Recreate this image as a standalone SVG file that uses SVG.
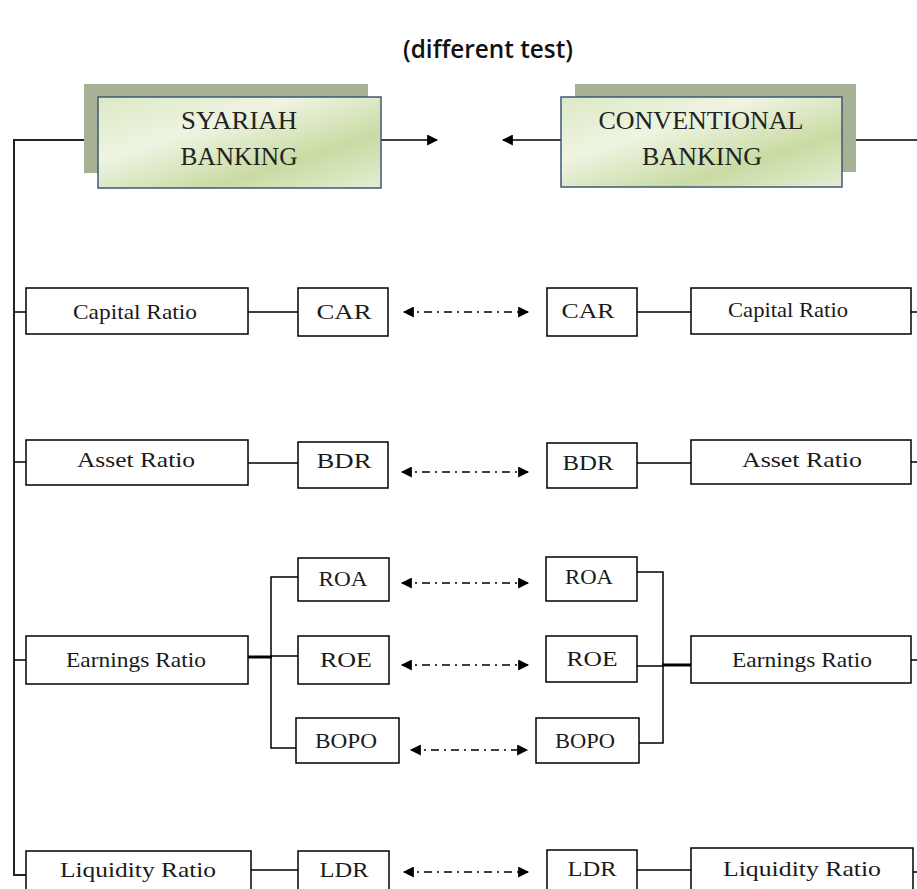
<svg xmlns="http://www.w3.org/2000/svg" width="917" height="889" viewBox="0 0 917 889">
<defs>
<linearGradient id="g" x1="0" y1="0" x2="1" y2="1">
<stop offset="0" stop-color="#dce9c4"/>
<stop offset="0.35" stop-color="#eef4e2"/>
<stop offset="0.7" stop-color="#c9dba3"/>
<stop offset="1" stop-color="#e4eed3"/>
</linearGradient>
<marker id="ah" viewBox="0 0 10 10" refX="9" refY="5" markerWidth="13" markerHeight="11" markerUnits="userSpaceOnUse" orient="auto-start-reverse">
<path d="M0,0 L10,5 L0,10 Z" fill="#000"/>
</marker>
</defs>
<style>
.t{font-family:"Liberation Serif","DejaVu Serif",serif;font-size:21px;fill:#1a1a1a;text-anchor:middle}
.h{font-family:"Liberation Serif","DejaVu Serif",serif;font-size:25px;fill:#222;text-anchor:middle}
.b{fill:#fff;stroke:#000;stroke-width:1.5}
.hb{fill:url(#g);stroke:#3d5878;stroke-width:1.5}
.sh{fill:#a7b193}
.ln{fill:none;stroke:#000;stroke-width:1.5}
.tk{fill:none;stroke:#000;stroke-width:3}
.da{fill:none;stroke:#000;stroke-width:1.5;stroke-dasharray:8 5 2 5}
</style>
<rect width="917" height="889" fill="#fff"/>
<text x="488" y="58" font-family="'Open Sans','Liberation Sans',sans-serif" font-size="25" font-weight="600" fill="#111" text-anchor="middle" textLength="170" lengthAdjust="spacingAndGlyphs">(different test)</text>

<g id="connectors">
<path class="ln" d="M98,140 H14 V875 H26" style="stroke:#222;stroke-width:2"/>
<path class="ln" d="M14,312 H26 M14,462 H26 M14,660 H26"/>
<path class="ln" d="M911,312 H917 M911,462 H917 M911,660 H917 M911,872 H917"/>
<path class="ln" d="M381,140 H437" marker-end="url(#ah)"/>
<path class="ln" d="M561,140 H503" marker-end="url(#ah)"/>
<path class="ln" d="M842,140 H917"/>
<path class="ln" d="M248,312 H298 M637,312 H691"/>
<path class="ln" d="M248,463 H298 M637,463 H691"/>
<path class="ln" d="M248,870 H298 M637,870 H691"/>
<path class="ln" d="M298,577 H271 V748 H296 M271,656 H298"/>
<path class="tk" d="M248,657 H272"/>
<path class="ln" d="M637,572 H663 V743 H639 M637,666 H663"/>
<path class="tk" d="M662,665 H691"/>
<path class="da" d="M404,312 H528" marker-start="url(#ah)" marker-end="url(#ah)"/>
<path class="da" d="M402,472 H528" marker-start="url(#ah)" marker-end="url(#ah)"/>
<path class="da" d="M402,583 H528" marker-start="url(#ah)" marker-end="url(#ah)"/>
<path class="da" d="M402,665 H528" marker-start="url(#ah)" marker-end="url(#ah)"/>
<path class="da" d="M411,750 H527" marker-start="url(#ah)" marker-end="url(#ah)"/>
<path class="da" d="M404,872 H528" marker-start="url(#ah)" marker-end="url(#ah)"/>
</g>

<g id="syariah">
<rect class="sh" x="84" y="84" width="284" height="89"/>
<rect class="hb" x="98" y="97" width="283" height="91"/>
<text class="h" x="239" y="129" textLength="116" lengthAdjust="spacingAndGlyphs">SYARIAH</text>
<text class="h" x="239" y="165" textLength="117" lengthAdjust="spacingAndGlyphs">BANKING</text>
</g>
<g id="conventional">
<rect class="sh" x="575" y="84" width="281" height="88"/>
<rect class="hb" x="561" y="97" width="281" height="90"/>
<text class="h" x="701" y="129" textLength="205" lengthAdjust="spacingAndGlyphs">CONVENTIONAL</text>
<text class="h" x="702" y="165" textLength="120" lengthAdjust="spacingAndGlyphs">BANKING</text>
</g>

<g id="capital-left"><rect class="b" x="26" y="288" width="222" height="46"/><text class="t" x="135" y="319" textLength="124" lengthAdjust="spacingAndGlyphs">Capital Ratio</text></g>
<g id="car-left"><rect class="b" x="298" y="288" width="90" height="48"/><text class="t" x="344" y="319" textLength="55" lengthAdjust="spacingAndGlyphs">CAR</text></g>
<g id="car-right"><rect class="b" x="547" y="288" width="90" height="48"/><text class="t" x="588" y="318" textLength="53" lengthAdjust="spacingAndGlyphs">CAR</text></g>
<g id="capital-right"><rect class="b" x="691" y="288" width="220" height="46"/><text class="t" x="788" y="317" textLength="120" lengthAdjust="spacingAndGlyphs">Capital Ratio</text></g>

<g id="asset-left"><rect class="b" x="26" y="440" width="222" height="45"/><text class="t" x="136" y="467" textLength="118" lengthAdjust="spacingAndGlyphs">Asset Ratio</text></g>
<g id="bdr-left"><rect class="b" x="298" y="442" width="90" height="46"/><text class="t" x="344" y="468" textLength="55" lengthAdjust="spacingAndGlyphs">BDR</text></g>
<g id="bdr-right"><rect class="b" x="547" y="443" width="90" height="45"/><text class="t" x="588" y="470" textLength="51" lengthAdjust="spacingAndGlyphs">BDR</text></g>
<g id="asset-right"><rect class="b" x="691" y="440" width="220" height="44"/><text class="t" x="802" y="467" textLength="120" lengthAdjust="spacingAndGlyphs">Asset Ratio</text></g>

<g id="roa-left"><rect class="b" x="298" y="558" width="91" height="43"/><text class="t" x="343" y="586" textLength="49" lengthAdjust="spacingAndGlyphs">ROA</text></g>
<g id="roe-left"><rect class="b" x="298" y="636" width="91" height="48"/><text class="t" x="346" y="667" textLength="52" lengthAdjust="spacingAndGlyphs">ROE</text></g>
<g id="bopo-left"><rect class="b" x="296" y="718" width="103" height="45"/><text class="t" x="346" y="748" textLength="62" lengthAdjust="spacingAndGlyphs">BOPO</text></g>
<g id="roa-right"><rect class="b" x="546" y="557" width="91" height="44"/><text class="t" x="589" y="584" textLength="48" lengthAdjust="spacingAndGlyphs">ROA</text></g>
<g id="roe-right"><rect class="b" x="546" y="636" width="91" height="46"/><text class="t" x="592" y="666" textLength="51" lengthAdjust="spacingAndGlyphs">ROE</text></g>
<g id="bopo-right"><rect class="b" x="536" y="718" width="103" height="45"/><text class="t" x="585" y="748" textLength="60" lengthAdjust="spacingAndGlyphs">BOPO</text></g>
<g id="earnings-left"><rect class="b" x="26" y="636" width="222" height="48"/><text class="t" x="136" y="667" textLength="140" lengthAdjust="spacingAndGlyphs">Earnings Ratio</text></g>
<g id="earnings-right"><rect class="b" x="691" y="636" width="220" height="47"/><text class="t" x="802" y="667" textLength="140" lengthAdjust="spacingAndGlyphs">Earnings Ratio</text></g>

<g id="liquidity-left"><rect class="b" x="26" y="851" width="225" height="50"/><text class="t" x="138" y="877" textLength="156" lengthAdjust="spacingAndGlyphs">Liquidity Ratio</text></g>
<g id="ldr-left"><rect class="b" x="298" y="851" width="91" height="50"/><text class="t" x="344" y="877" textLength="49" lengthAdjust="spacingAndGlyphs">LDR</text></g>
<g id="ldr-right"><rect class="b" x="547" y="850" width="90" height="50"/><text class="t" x="592" y="876" textLength="49" lengthAdjust="spacingAndGlyphs">LDR</text></g>
<g id="liquidity-right"><rect class="b" x="691" y="848" width="222" height="50"/><text class="t" x="802" y="876" textLength="158" lengthAdjust="spacingAndGlyphs">Liquidity Ratio</text></g>
</svg>
